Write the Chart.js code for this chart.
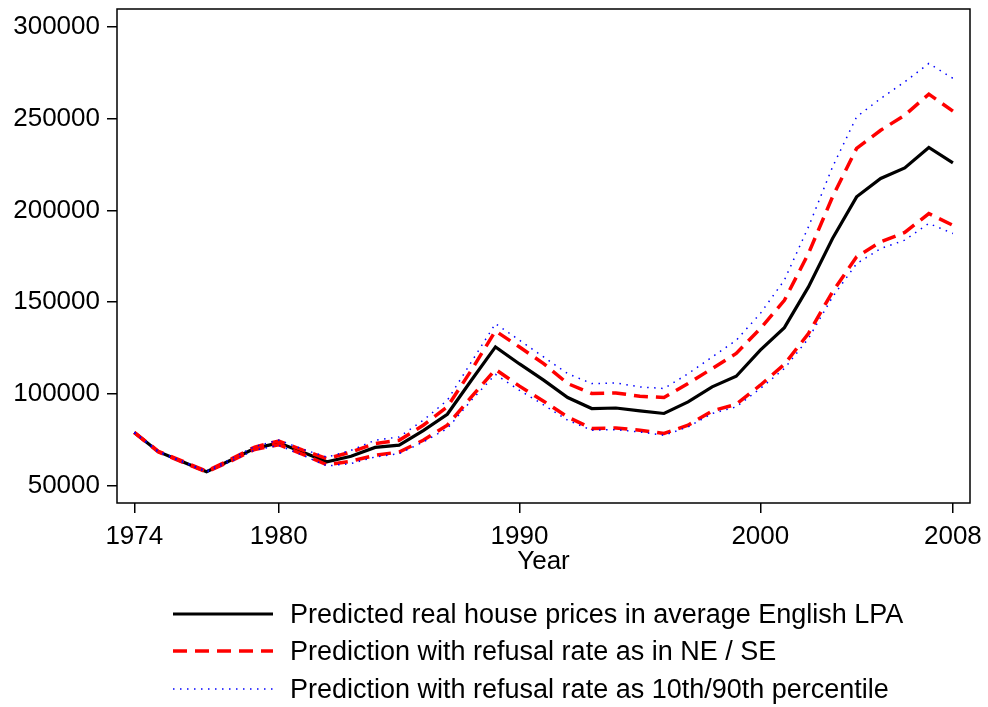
<!DOCTYPE html>
<html>
<head>
<meta charset="utf-8">
<script src="https://cdn.jsdelivr.net/npm/chart.js@4"></script>
<style>
html,body{margin:0;padding:0;background:#fff;}
canvas{display:block;}
</style>
</head>
<body>
<canvas id="c" width="988" height="707"></canvas>
<script>
const years = [1974,1975,1976,1977,1978,1979,1980,1981,1982,1983,1984,1985,1986,1987,1988,1989,1990,1991,1992,1993,1994,1995,1996,1997,1998,1999,2000,2001,2002,2003,2004,2005,2006,2007,2008];
const predicted = [78900,68500,63000,57600,63800,70300,73300,68200,63000,66000,70800,72000,80000,88900,107400,125600,116300,107500,98000,92000,92300,90700,89300,95600,103800,109600,123800,136100,158300,184700,207400,217400,223200,234300,225900];
const neUpper = [79000,68700,63300,57800,64300,71000,74300,69300,64700,68300,72900,74700,82900,92900,112900,134300,125500,116500,105600,100200,100500,98700,98000,105600,113800,122000,135600,151000,176500,207400,233800,243700,251900,263400,254100];
const seLower = [78800,68300,62800,57400,63300,69700,72300,67000,61300,63300,66500,68300,74700,82900,98300,113300,104200,96000,87400,81100,81400,80200,78400,82900,90700,94300,104700,116100,132900,155600,174700,182900,188000,198300,191900];
const p90 = [79100,68800,63400,57900,64500,71300,74800,69800,65500,69200,74700,76500,85600,96500,117400,138300,129200,120100,111000,105600,105900,103800,102900,111000,120100,129200,143800,162000,191000,223700,251000,261000,270100,280100,272000];
const p10 = [78700,68200,62700,57300,63100,69400,71900,66500,60700,62000,65600,67400,73800,81100,96500,110600,101900,94000,85600,80200,80500,79200,77400,82000,89300,92900,102900,113800,130200,152800,171000,179200,183800,192900,187400];
const xTicks = [1974,1980,1990,2000,2008];
const yTicks = [50000,100000,150000,200000,250000,300000];
const legendLabels = [
  "Predicted real house prices in average English LPA",
  "Prediction with refusal rate as in NE / SE",
  "Prediction with refusal rate as 10th/90th percentile"
];

const FONT = "'Liberation Sans', Arial, sans-serif";
const FS = 26;
const pts = arr => years.map((yr, i) => ({x: yr, y: arr[i]}));

const boxPlugin = {
  id: 'boxAndLegend',
  afterDraw(chart) {
    const ctx = chart.ctx, a = chart.chartArea;
    ctx.save();
    ctx.strokeStyle = '#000';
    ctx.lineWidth = 1.5;
    ctx.setLineDash([]);
    ctx.strokeRect(a.left, a.top, a.right - a.left, a.bottom - a.top);
    const styles = [
      {color:'#000', width:3, dash:[]},
      {color:'#ff0000', width:3.5, dash:[14,8]},
      {color:'#0000ff', width:1.5, dash:[1.5,5.5]}
    ];
    const rowsY = [615, 652, 690];
    ctx.font = "27px " + FONT;
    ctx.textBaseline = 'middle';
    ctx.textAlign = 'left';
    legendLabels.forEach((t, i) => {
      const s = styles[i];
      ctx.beginPath();
      ctx.strokeStyle = s.color;
      ctx.lineWidth = s.width;
      ctx.setLineDash(s.dash);
      ctx.moveTo(173, rowsY[i] - 1);
      ctx.lineTo(273, rowsY[i] - 1);
      ctx.stroke();
      ctx.setLineDash([]);
      ctx.fillStyle = '#000';
      ctx.fillText(t, 290, rowsY[i] + 1);
    });
    ctx.restore();
  }
};

new Chart(document.getElementById('c'), {
  type: 'line',
  data: {
    datasets: [
      {label: legendLabels[0], data: pts(predicted), borderColor:'#000', borderWidth:3.2, pointRadius:0, tension:0, fill:false, order:3},
      {label: legendLabels[1], data: pts(neUpper), borderColor:'#ff0000', borderWidth:3.5, borderDash:[14,8], pointRadius:0, tension:0, fill:false, order:2},
      {label: legendLabels[1] + ' (lower)', data: pts(seLower), borderColor:'#ff0000', borderWidth:3.5, borderDash:[14,8], pointRadius:0, tension:0, fill:false, order:2},
      {label: legendLabels[2], data: pts(p90), borderColor:'#0000ff', borderWidth:1.5, borderDash:[1.5,5.5], pointRadius:0, tension:0, fill:false, order:1},
      {label: legendLabels[2] + ' (lower)', data: pts(p10), borderColor:'#0000ff', borderWidth:1.5, borderDash:[1.5,5.5], pointRadius:0, tension:0, fill:false, order:1}
    ]
  },
  options: {
    responsive: false,
    animation: false,
    devicePixelRatio: 1,
    layout: {padding: {left: 0, right: 18, top: 9, bottom: 126}},
    plugins: {legend: {display: false}, tooltip: {enabled: false}},
    scales: {
      x: {
        type: 'linear',
        min: 1973.28,
        max: 2008.71,
        afterBuildTicks: s => { s.ticks = xTicks.map(v => ({value: v})); },
        afterFit: s => { s.height = 78; s.paddingLeft = 0; s.paddingRight = 0; },
        grid: {drawOnChartArea: false, drawTicks: true, tickLength: 10, color: '#000', lineWidth: 1.5},
        border: {display: false},
        ticks: {color: '#000', font: {family: FONT, size: FS}, padding: 8, maxRotation: 0, autoSkip: false, callback: v => String(v)},
        title: {display: true, text: 'Year', color: '#000', font: {family: FONT, size: FS}, padding: {top: 0, bottom: 4}}
      },
      y: {
        type: 'linear',
        min: 40500,
        max: 309800,
        afterBuildTicks: s => { s.ticks = yTicks.map(v => ({value: v})); },
        afterFit: s => { s.width = 117; s.paddingTop = 0; s.paddingBottom = 0; },
        grid: {drawOnChartArea: false, drawTicks: true, tickLength: 10, color: '#000', lineWidth: 1.5},
        border: {display: false},
        ticks: {color: '#000', font: {family: FONT, size: FS}, padding: 7, autoSkip: false, callback: v => String(v)}
      }
    }
  },
  plugins: [boxPlugin]
});
</script>
</body>
</html>
